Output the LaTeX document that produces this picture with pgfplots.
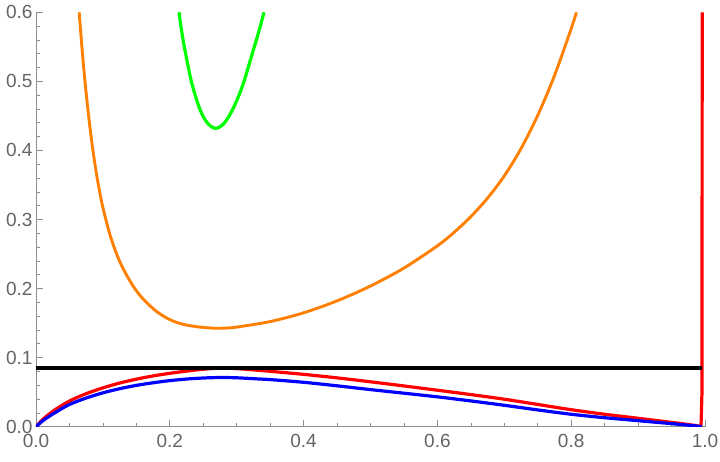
\documentclass[border=0pt]{standalone}
\usepackage{fontspec}
\setmainfont{Liberation Sans}
\usepackage{pgfplots}
\pgfplotsset{compat=1.18}
\definecolor{axgray}{RGB}{140,140,140}
\definecolor{lblgray}{RGB}{100,100,100}
\definecolor{mred}{RGB}{255,0,0}
\definecolor{mblue}{RGB}{0,0,255}
\definecolor{mgreen}{RGB}{0,255,0}
\definecolor{morange}{RGB}{255,128,0}
\begin{document}
\begin{tikzpicture}
\begin{axis}[
  scale only axis,
  width=669pt, height=414.4pt,
  xmin=0, xmax=1, ymin=0, ymax=0.6,
  axis x line*=bottom, axis y line*=left,
  axis line style={draw=axgray, line width=0.8pt, -},
  xtick={0,0.2,0.4,0.6,0.8,1.0},
  ytick={0,0.1,0.2,0.3,0.4,0.5,0.6},
  minor x tick num=3, minor y tick num=4,
  tick align=inside,
  major tick length=7pt, minor tick length=4pt,
  tick style={draw=axgray, line width=0.7pt},
  /pgf/number format/assume math mode=true,
  /pgf/number format/.cd, fixed, fixed zerofill, precision=1,
  /pgfplots/.cd,
  ticklabel style={font=\fontsize{19}{19}\selectfont, text=lblgray},
  xticklabel style={yshift=-4pt},
  clip=true,
]
% red
\addplot[mred, line width=3.2pt, smooth] coordinates {
(0,0) (0.01,0.0105) (0.02,0.0185) (0.03,0.0255) (0.05,0.0372) (0.075,0.0478)
(0.1,0.0562) (0.125,0.0632) (0.15,0.0688) (0.175,0.0735) (0.2,0.0773)
(0.225,0.0805) (0.25,0.0832) (0.275,0.0848) (0.3,0.0841) (0.335,0.0814)
(0.35,0.0802) (0.4,0.0758) (0.45,0.0707) (0.5,0.0650) (0.55,0.0590)
(0.6,0.0528) (0.65,0.0465) (0.7,0.0398) (0.75,0.0322) (0.8,0.0246)
(0.85,0.0180) (0.9,0.0122) (0.95,0.0063) (0.975,0.0032) (0.99,0.0010)
(0.994,0.0003)};
\addplot[mred, line width=3.2pt] coordinates {
(0.994,0.0003) (0.9955,0.05) (0.9958,0.6)};
% blue
\addplot[mblue, line width=3.2pt, smooth] coordinates {
(0,0) (0.01,0.0085) (0.02,0.0152) (0.03,0.0212) (0.05,0.0322) (0.075,0.0415)
(0.1,0.0490) (0.125,0.0550) (0.15,0.0598) (0.175,0.0636) (0.2,0.0667)
(0.225,0.0690) (0.25,0.0705) (0.275,0.0712) (0.3,0.0708) (0.335,0.0690)
(0.35,0.0682) (0.4,0.0643) (0.45,0.0592) (0.5,0.0537) (0.55,0.0485)
(0.6,0.0432) (0.65,0.0373) (0.7,0.0310) (0.75,0.0243) (0.8,0.0180)
(0.85,0.0130) (0.9,0.0087) (0.95,0.0044) (0.975,0.0022) (0.995,0.0002)};
% orange
\addplot[morange, line width=2.9pt, smooth] coordinates {
(0.0645,0.600) (0.070,0.5338) (0.075,0.4828) (0.080,0.4388) (0.085,0.4008)
(0.090,0.3683) (0.095,0.3408) (0.100,0.3173) (0.110,0.2798) (0.120,0.2513)
(0.130,0.2293) (0.145,0.2038) (0.160,0.185) (0.180,0.167) (0.200,0.155)
(0.220,0.1482) (0.240,0.1448) (0.255,0.1433) (0.270,0.1425) (0.285,0.1429)
(0.30,0.1442) (0.35,0.1522) (0.40,0.1649) (0.45,0.1822) (0.50,0.2037)
(0.55,0.2297) (0.60,0.2619) (0.625,0.2814) (0.65,0.3042) (0.675,0.331)
(0.70,0.3631) (0.725,0.4027) (0.75,0.4508) (0.775,0.5083) (0.80,0.5764)
(0.8078,0.600)};
% green
\addplot[mgreen, line width=3.2pt, smooth] coordinates {
(0.2138,0.600) (0.2180,0.571) (0.2227,0.545) (0.2327,0.498) (0.2452,0.459)
(0.2560,0.440) (0.2676,0.432) (0.2790,0.437) (0.2900,0.452) (0.3000,0.472)
(0.3099,0.497) (0.3248,0.545) (0.3330,0.572) (0.3408,0.600)};
% black
\addplot[black, line width=3.2pt] coordinates {(0,0.085) (0.996,0.085)};
\end{axis}
\pgfresetboundingbox
\path[use as bounding box] (-36pt,-35.3pt) rectangle (684pt,426.7pt);
\end{tikzpicture}
\end{document}
